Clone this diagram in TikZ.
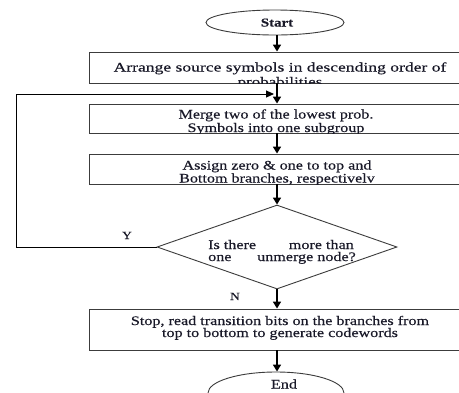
\documentclass[tikz,border=0pt]{standalone}
\usepackage{fontspec}
\setmainfont{Liberation Serif}[FakeStretch=1.24,FakeBold=0.4]
\usetikzlibrary{shapes.geometric,arrows.meta}
\definecolor{txt}{RGB}{25,25,40}
\definecolor{edge}{RGB}{60,60,60}
\tikzset{
  shapeline/.style={draw=edge, line width=0.9pt},
  boxnode/.style={shapeline, rectangle, minimum width=376pt, inner sep=0pt},
  ovalnode/.style={shapeline, ellipse, inner sep=0pt},
  txtline/.style={anchor=base, inner sep=0pt, text=txt, font=\fontsize{13}{13}\selectfont},
  flowarr/.style={draw=black, line width=1.6pt, -{Triangle[width=8pt,length=7pt]}},
  looparr/.style={draw=black, line width=1pt, -{Triangle[width=7pt,length=8pt]}},
  lbl/.style={anchor=base, inner sep=0pt, text=txt, font=\fontsize{11}{12}\selectfont}
}
\begin{document}
\begin{tikzpicture}[x=1pt,y=-1pt]
\clip (0,0) rectangle (459,392);
\fill[white] (0,0) rectangle (459,392);
% nodes
\node[ovalnode, minimum width=138pt, minimum height=25pt] (start) at (275,22.5) {};
\node[txtline, font=\bfseries\fontsize{12}{13}\selectfont] (starttxt) at (277,26.5) {Start};
\node[boxnode, minimum height=31pt] (b1) at (277,67.5) {};
\node[boxnode, minimum height=29pt] (b2) at (277,118.5) {};
\node[boxnode, minimum height=30pt] (b3) at (277,169) {};
\node[shapeline, diamond, minimum width=240pt, minimum height=84pt, inner sep=0pt] (dia) at (277,247) {};
\node[boxnode, minimum height=41pt] (b4) at (277,329.5) {};
\node[ovalnode, minimum width=136pt, minimum height=42pt] (end) at (276,393) {};
% clipped texts
\begin{scope}
\clip (b1.north west) rectangle (b1.south east);
\node[txtline] (t1a) at (280,71.5) {\scalebox{1.09}[1]{Arrange source symbols in descending order of}};
\node[txtline] (t1b) at (280,86) {\scalebox{1.05}[1]{probabilities}};
\end{scope}
\begin{scope}
\clip (b2.north west) rectangle (b2.south east);
\node[txtline] (t2a) at (276,118.5) {Merge two of the lowest prob.};
\node[txtline] (t2b) at (276,132) {Symbols into one subgroup};
\end{scope}
\begin{scope}
\clip (b3.north west) rectangle (b3.south east);
\node[txtline] (t3a) at (277,169.5) {Assign zero \& one to top and};
\node[txtline] (t3b) at (277,182.5) {Bottom branches, respectivelv};
\end{scope}
\node[txtline, anchor=base west] (q1a) at (208,249) {Is there};
\node[txtline, anchor=base east] (q1b) at (354,249) {more than};
\node[txtline, anchor=base west] (q2a) at (208,261) {one};
\node[txtline, anchor=base east] (q2b) at (356,261) {unmerge node?};
\node[txtline] (t4a) at (280,325) {Stop, read transition bits on the branches from};
\node[txtline] (t4b) at (280,337) {top to bottom to generate codewords};
\node[txtline] (endtxt) at (284,388.5) {End};
\node[lbl] (ylab) at (127,239) {Y};
\node[lbl] (nlab) at (235,300) {N};
% connectors
\coordinate (lc) at (16,94);
\coordinate (lend) at (274,94);
\draw[flowarr] (start.south -| b1.north) -- (b1.north);
\draw[flowarr] (b1.south) -- (b2.north);
\draw[looparr] (dia.west) -| (lc) -- (lend);
\draw[flowarr] (b2.south) -- (b3.north);
\draw[flowarr] (b3.south) -- (dia.north);
\draw[flowarr] (dia.south) -- (b4.north);
\draw[flowarr] (b4.south) -- (end.north -| b4.south);
\end{tikzpicture}
\end{document}
